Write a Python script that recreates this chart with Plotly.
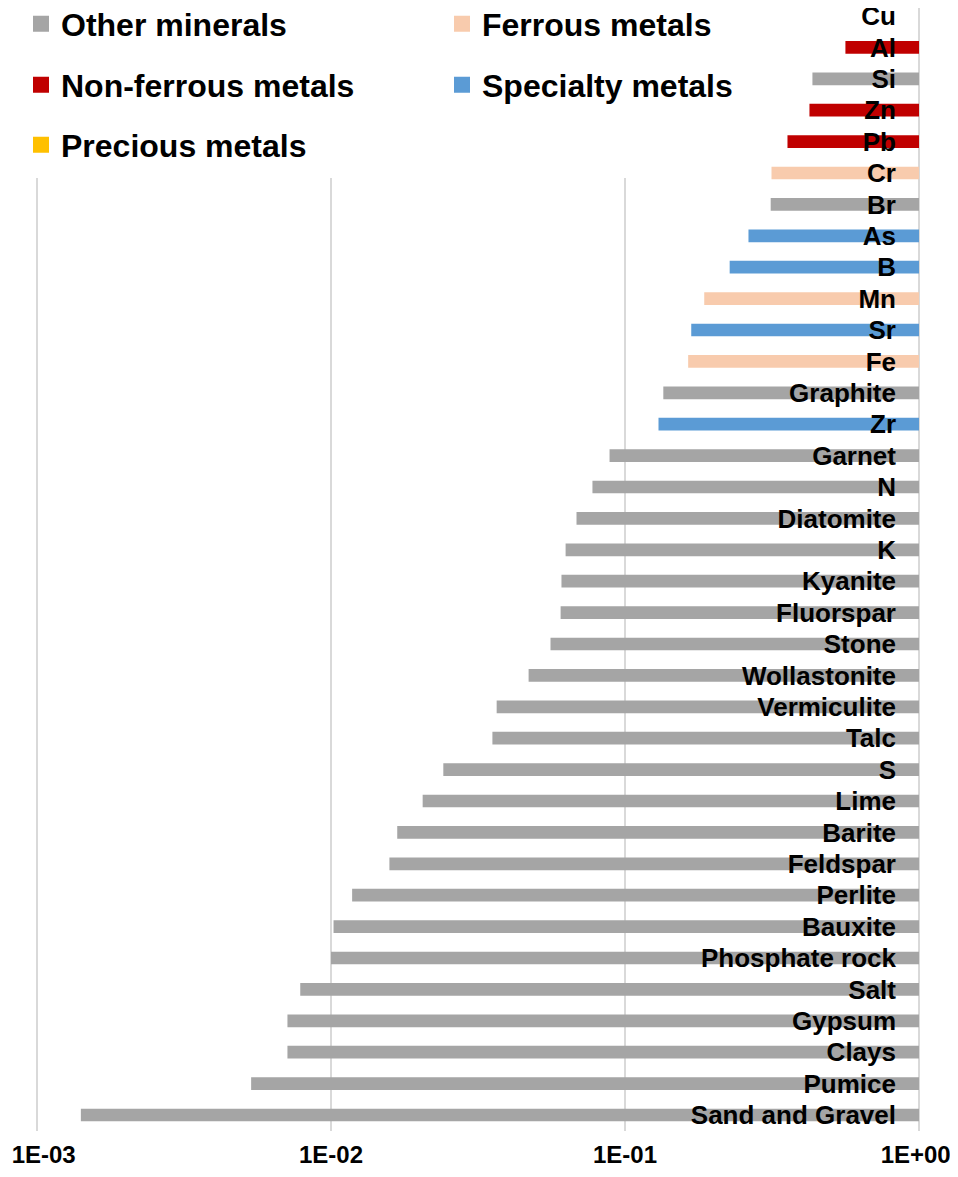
import plotly.graph_objects as go

# Data (top to bottom as shown)
categories = ["Cu", "Al", "Si", "Zn", "Pb", "Cr", "Br", "As", "B", "Mn", "Sr", "Fe",
              "Graphite", "Zr", "Garnet", "N", "Diatomite", "K", "Kyanite", "Fluorspar",
              "Stone", "Wollastonite", "Vermiculite", "Talc", "S", "Lime", "Barite",
              "Feldspar", "Perlite", "Bauxite", "Phosphate rock", "Salt", "Gypsum",
              "Clays", "Pumice", "Sand and Gravel"]
values = [1.0, 0.562, 0.434, 0.424, 0.357, 0.315, 0.313, 0.263, 0.227, 0.186, 0.168, 0.164,
          0.135, 0.130, 0.0886, 0.0775, 0.0684, 0.0628, 0.0608, 0.0604,
          0.0558, 0.0470, 0.0366, 0.0354, 0.0241, 0.0205, 0.0168,
          0.0158, 0.0118, 0.0102, 0.0100, 0.00786, 0.00711,
          0.00711, 0.00535, 0.00141]
groups = ["Non-ferrous metals", "Non-ferrous metals", "Other minerals", "Non-ferrous metals",
          "Non-ferrous metals", "Ferrous metals", "Other minerals", "Specialty metals",
          "Specialty metals", "Ferrous metals", "Specialty metals", "Ferrous metals",
          "Other minerals", "Specialty metals"] + ["Other minerals"] * 22

group_names = ["Other minerals", "Ferrous metals", "Non-ferrous metals", "Specialty metals", "Precious metals"]
group_colors = ["#A5A5A5", "#F8CBAD", "#C00000", "#5B9BD5", "#FFC000"]
legend_ids = ["legend", "legend", "legend2", "legend2", "legend3"]

tick_vals = [0.001, 0.01, 0.1, 1]
tick_text = ["\u00a0\u00a01E-03", "1E-02", "1E-01", "1E+00\u00a0"]

FONT = "Liberation Sans, Arial, sans-serif"

# figure / plot-area geometry in pixels
W, H = 950, 1161
L, R, T, B = 26, 36, 0, 38
PW, PH = W - L - R, H - T - B
EPS = 3 / 294.0  # three pixels in decades (keeps edge gridlines visible)


def px_x(px):
    return (px - L) / PW


def px_y(py):
    return (H - B - py) / PH


fig = go.Figure()
for name, color in zip(group_names, group_colors):
    ys = [c for c, g in zip(categories, groups) if g == name]
    vs = [v for v, g in zip(values, groups) if g == name]
    if ys:
        fig.add_trace(go.Bar(
            y=ys,
            x=[1 - v for v in vs],
            base=vs,
            orientation="h",
            name=name,
            marker=dict(color=color, line=dict(width=0)),
            width=0.405,
            showlegend=False,
        ))

# legend entries (square swatches)
for name, color, lg in zip(group_names, group_colors, legend_ids):
    fig.add_trace(go.Scatter(
        x=[None], y=[None], mode="markers", name=name,
        marker=dict(symbol="square", size=16, color=color),
        legend=lg, showlegend=True,
    ))

legend_common = dict(
    orientation="h",
    entrywidth=376,
    entrywidthmode="pixels",
    font=dict(family=FONT, size=32, color="black", weight="bold"),
    bgcolor="rgba(0,0,0,0)",
    xref="container",
    yref="container",
    xanchor="left",
    yanchor="middle",
    x=13 / W,
    traceorder="normal",
    itemsizing="trace",
)

fig.update_layout(
    width=W, height=H,
    margin=dict(l=L, r=R, t=T, b=B, autoexpand=False),
    plot_bgcolor="white",
    paper_bgcolor="white",
    barmode="overlay",
    font=dict(family=FONT, color="black"),
    legend=dict(**legend_common, y=1 - 16 / H),
    legend2=dict(**legend_common, y=1 - 77 / H),
    legend3=dict(**legend_common, y=1 - 137 / H),
    xaxis=dict(
        type="log",
        range=[-3 - EPS, 0 + EPS],
        tickvals=tick_vals,
        ticktext=tick_text,
        showgrid=True,
        gridcolor="#D9D9D9",
        gridwidth=1.5,
        showline=False,
        zeroline=False,
        ticks="",
        ticklabelstandoff=7,
        ticklabeloverflow="allow",
        tickfont=dict(family=FONT, size=24, color="black", weight="bold"),
    ),
    yaxis=dict(
        type="category",
        categoryorder="array",
        categoryarray=categories[::-1],
        range=[-0.5096, 35.2548],
        side="right",
        ticklabelposition="inside",
        ticklabeloverflow="allow",
        ticklabelstandoff=23,
        showgrid=False,
        ticks="",
        showline=False,
        tickfont=dict(family=FONT, size=26, color="black", weight="bold"),
    ),
    shapes=[dict(
        type="rect", xref="paper", yref="paper",
        x0=px_x(6), x1=px_x(737), y0=px_y(170), y1=px_y(0) + 0.01,
        fillcolor="white", line=dict(width=0), layer="above",
    )],
)

fig.write_html("out.html")
